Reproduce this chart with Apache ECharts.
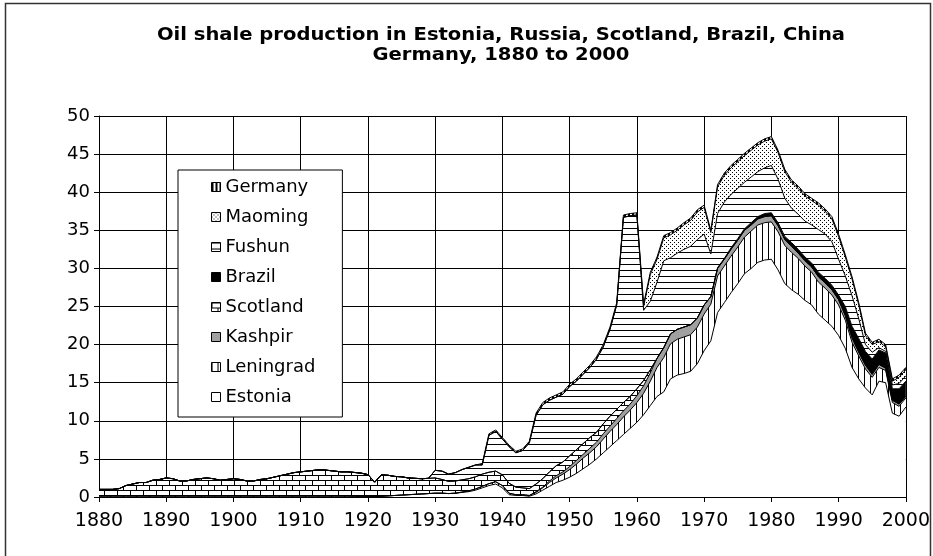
<!DOCTYPE html>
<html>
<head>
<meta charset="utf-8">
<script src="https://cdn.jsdelivr.net/npm/echarts@6/dist/echarts.min.js"></script>
<style>
  html, body { margin: 0; padding: 0; background: #fff; }
  #chart { width: 933px; height: 556px; }
</style>
</head>
<body>
<div id="chart"></div>
<script>
// years 1880 .. 2000, one value per year (million tonnes)
var firstYear = 1880, lastYear = 2000;
var years = [];
for (var y = firstYear; y <= lastYear; y++) years.push(String(y));

var titleLines = [
  "Oil shale production in Estonia, Russia, Scotland, Brazil, China",
  "Germany, 1880 to 2000"
];

var estonia = [
  0, 0, 0, 0, 0, 0, 0, 0, 0, 0,
  0, 0, 0, 0, 0, 0, 0, 0, 0, 0,
  0, 0, 0, 0, 0, 0, 0, 0, 0, 0,
  0, 0, 0, 0, 0, 0, 0, 0, 0.02, 0.03,
  0.04, 0.05, 0.1, 0.15, 0.2, 0.25, 0.3, 0.35, 0.4, 0.45,
  0.5, 0.5, 0.45, 0.5, 0.6, 0.7, 0.9, 1.2, 1.5, 1.7,
  1.2, 0.3, 0.2, 0.2, 0.1, 0.4, 0.9, 1.4, 1.9, 2.2,
  2.6, 3.1, 3.7, 4.3, 5.0, 5.8, 6.6, 7.4, 8.2, 9.0,
  9.8, 10.8, 12.0, 13.2, 13.8, 15.5, 16.0, 16.2, 16.5, 17.5,
  19.2, 20.5, 24.2, 25.5, 26.8, 28.0, 29.3, 30.0, 30.8, 31.1,
  31.2, 29.8, 28.0, 27.2, 26.6, 25.8, 25.2, 24.0, 23.2, 22.4,
  21.2, 19.5, 17.0, 15.5, 14.3, 13.4, 15.2, 15.0, 11.0, 10.6,
  11.8
];
var leningrad = [
  0, 0, 0, 0, 0, 0, 0, 0, 0, 0,
  0, 0, 0, 0, 0, 0, 0, 0, 0, 0,
  0, 0, 0, 0, 0, 0, 0, 0, 0, 0,
  0, 0, 0, 0, 0, 0, 0, 0, 0, 0,
  0, 0, 0, 0, 0, 0, 0, 0, 0, 0,
  0, 0, 0, 0, 0.05, 0.1, 0.15, 0.2, 0.25, 0.3,
  0.3, 0.2, 0.1, 0.1, 0.1, 0.2, 0.3, 0.5, 0.6, 0.8,
  1.0, 1.2, 1.4, 1.5, 1.6, 1.8, 2.0, 2.1, 2.3, 2.4,
  2.6, 2.8, 3.2, 3.8, 4.5, 4.6, 4.7, 4.8, 4.8, 4.8,
  4.8, 4.8, 4.8, 4.8, 4.8, 4.8, 4.8, 4.9, 4.9, 4.9,
  4.9, 5.0, 5.0, 4.9, 4.7, 4.5, 4.3, 4.2, 4.2, 4.1,
  4.0, 3.7, 3.3, 3.0, 2.5, 2.3, 1.8, 1.6, 1.4, 1.3,
  1.2
];
var kashpir = [
  0, 0, 0, 0, 0, 0, 0, 0, 0, 0,
  0, 0, 0, 0, 0, 0, 0, 0, 0, 0,
  0, 0, 0, 0, 0, 0, 0, 0, 0, 0,
  0, 0, 0, 0, 0, 0, 0, 0, 0, 0,
  0, 0, 0, 0, 0, 0, 0, 0, 0, 0,
  0, 0, 0, 0, 0, 0, 0, 0, 0, 0,
  0, 0, 0, 0, 0, 0.1, 0.1, 0.2, 0.3, 0.3,
  0.4, 0.5, 0.5, 0.6, 0.6, 0.7, 0.7, 0.8, 0.8, 0.8,
  0.9, 1.0, 1.1, 1.2, 1.3, 1.3, 1.3, 1.3, 1.3, 1.2,
  1.2, 1.0, 1.0, 0.9, 0.9, 0.9, 0.9, 0.8, 0.8, 0.8,
  0.8, 0.8, 0.8, 0.8, 0.7, 0.7, 0.7, 0.7, 0.7, 0.7,
  0.7, 0.6, 0.6, 0.5, 0.5, 0.4, 0.4, 0.3, 0.3, 0.3,
  0.2
];
var scotland = [
  1.0, 1.0, 1.0, 1.1, 1.5, 1.7, 1.9, 1.9, 2.2, 2.3,
  2.5, 2.4, 2.1, 2.1, 2.3, 2.4, 2.5, 2.4, 2.2, 2.3,
  2.4, 2.3, 2.1, 2.1, 2.3, 2.4, 2.6, 2.8, 3.0, 3.2,
  3.3, 3.4, 3.5, 3.6, 3.5, 3.4, 3.3, 3.3, 3.2, 3.1,
  2.9, 1.9, 2.8, 2.7, 2.5, 2.4, 2.2, 2.1, 2.0, 2.0,
  2.0, 1.8, 1.6, 1.6, 1.6, 1.6, 1.6, 1.6, 1.5, 1.4,
  1.4, 1.3, 1.0, 0.9, 0.9, 1.0, 1.1, 1.2, 1.3, 1.3,
  1.4, 1.4, 1.4, 1.4, 1.3, 1.3, 1.3, 1.2, 1.1, 1.0,
  0.9, 0.7, 0.4, 0, 0, 0, 0, 0, 0, 0,
  0, 0, 0, 0, 0, 0, 0, 0, 0, 0,
  0, 0, 0, 0, 0, 0, 0, 0, 0, 0,
  0, 0, 0, 0, 0, 0, 0, 0, 0, 0,
  0
];
var brazil = [
  0, 0, 0, 0, 0, 0, 0, 0, 0, 0,
  0, 0, 0, 0, 0, 0, 0, 0, 0, 0,
  0, 0, 0, 0, 0, 0, 0, 0, 0, 0,
  0, 0, 0, 0, 0, 0, 0, 0, 0, 0,
  0, 0, 0, 0, 0, 0, 0, 0, 0, 0,
  0, 0, 0, 0, 0, 0, 0, 0, 0, 0,
  0, 0, 0, 0, 0, 0, 0, 0, 0, 0,
  0, 0, 0, 0, 0, 0, 0, 0, 0, 0,
  0, 0, 0, 0, 0, 0, 0, 0, 0, 0,
  0, 0, 0.1, 0.1, 0.2, 0.2, 0.2, 0.3, 0.3, 0.4,
  0.4, 0.4, 0.4, 0.5, 0.5, 0.5, 0.5, 0.6, 0.6, 0.6,
  0.6, 1.2, 1.5, 1.8, 1.8, 2.0, 1.9, 2.0, 1.5, 2.0,
  2.0
];
var fushun = [
  0, 0, 0, 0, 0, 0, 0, 0, 0, 0,
  0, 0, 0, 0, 0, 0, 0, 0, 0, 0,
  0, 0, 0, 0, 0, 0, 0, 0, 0, 0,
  0, 0, 0, 0, 0, 0, 0, 0, 0, 0,
  0, 0, 0, 0, 0, 0, 0, 0, 0, 0,
  1.0, 1.1, 0.95, 1.1, 1.35, 1.5, 1.55, 1.2, 4.85, 5.2,
  4.7, 4.8, 4.5, 4.9, 6.0, 9.0, 9.7, 9.4, 9.0, 8.9,
  9.1, 9.0, 9.1, 9.2, 9.6, 10.1, 11.4, 13.7, 24.3, 23.7,
  22.8, 9.2, 9.0, 10.0, 11.4, 10.0, 10.0, 10.2, 10.3, 10.3,
  9.3, 5.6, 7.1, 7.4, 7.0, 6.6, 6.1, 6.0, 5.9, 6.0,
  6.2, 5.7, 5.0, 4.5, 4.6, 4.7, 5.0, 5.6, 5.8, 5.7,
  4.7, 4.0, 4.0, 2.6, 0.9, 0.9, 0.3, 0.2, 0.5, 0.7,
  0.7
];
var maoming = [
  0, 0, 0, 0, 0, 0, 0, 0, 0, 0,
  0, 0, 0, 0, 0, 0, 0, 0, 0, 0,
  0, 0, 0, 0, 0, 0, 0, 0, 0, 0,
  0, 0, 0, 0, 0, 0, 0, 0, 0, 0,
  0, 0, 0, 0, 0, 0, 0, 0, 0, 0,
  0, 0, 0, 0, 0, 0, 0, 0, 0, 0,
  0, 0, 0, 0, 0, 0, 0, 0, 0, 0,
  0, 0, 0, 0, 0, 0, 0, 0, 0, 0,
  0, 0.5, 3.5, 3.0, 3.0, 3.0, 3.0, 3.2, 3.4, 3.6,
  3.5, 2.8, 3.5, 3.5, 3.5, 3.5, 3.5, 3.5, 3.5, 3.5,
  3.5, 3.5, 3.5, 3.4, 3.4, 3.3, 3.2, 3.2, 3.0, 3.0,
  3.0, 2.5, 2.2, 1.8, 1.2, 1.0, 0.8, 0.6, 0.5, 0.8,
  0.8
];
var germany = [
  0, 0, 0, 0, 0, 0, 0, 0, 0, 0,
  0, 0, 0, 0, 0, 0, 0, 0, 0, 0,
  0, 0, 0, 0, 0, 0, 0, 0, 0, 0,
  0, 0, 0, 0, 0, 0, 0, 0, 0, 0,
  0, 0, 0, 0, 0, 0, 0, 0, 0, 0,
  0, 0, 0, 0, 0, 0, 0, 0.2, 0.2, 0.2,
  0.2, 0.2, 0.2, 0.2, 0.2, 0.3, 0.3, 0.3, 0.3, 0.3,
  0.3, 0.3, 0.3, 0.3, 0.3, 0.3, 0.3, 0.3, 0.3, 0.3,
  0.3, 0.3, 0.3, 0.3, 0.3, 0.3, 0.3, 0.3, 0.3, 0.3,
  0.3, 0.3, 0.3, 0.3, 0.3, 0.3, 0.3, 0.3, 0.3, 0.3,
  0.3, 0.3, 0.3, 0.3, 0.3, 0.3, 0.3, 0.3, 0.3, 0.3,
  0.3, 0.3, 0.3, 0.3, 0.3, 0.3, 0.3, 0.3, 0.3, 0.3,
  0.3
];

// fill patterns, like the old b/w spreadsheet fills
function pattern(w, h, draw) {
  var c = document.createElement("canvas");
  c.width = w;
  c.height = h;
  var ctx = c.getContext("2d");
  ctx.fillStyle = "#fff";
  ctx.fillRect(0, 0, w, h);
  ctx.fillStyle = "#000";
  draw(ctx);
  return { image: c, repeat: "repeat" };
}
var fills = {
  Estonia: "#fff",
  Leningrad: pattern(6, 6, function(ctx) { ctx.fillRect(0, 0, 1, 6); }),
  Kashpir: "#a0a0a0",
  Scotland: pattern(13, 10, function(ctx) {
    ctx.fillRect(0, 0, 13, 1);
    ctx.fillRect(0, 5, 13, 1);
    ctx.fillRect(0, 0, 1, 5);
    ctx.fillRect(6, 5, 1, 5);
  }),
  Brazil: "#000",
  Fushun: pattern(6, 6, function(ctx) { ctx.fillRect(0, 0, 6, 1); }),
  Maoming: pattern(4, 4, function(ctx) {
    ctx.fillRect(0, 0, 1, 1);
    ctx.fillRect(2, 2, 1, 1);
  }),
  Germany: pattern(4, 4, function(ctx) { ctx.fillRect(0, 0, 2, 4); })
};

var stackData = [
  { name: "Estonia", data: estonia },
  { name: "Leningrad", data: leningrad },
  { name: "Kashpir", data: kashpir },
  { name: "Scotland", data: scotland },
  { name: "Brazil", data: brazil },
  { name: "Fushun", data: fushun },
  { name: "Maoming", data: maoming },
  { name: "Germany", data: germany }
];

var font = "DejaVu Sans";

// the title font of the original is wide-set; stretch ours to the same width
var titleFont = 'bold 18px "DejaVu Sans Condensed", "DejaVu Sans"';
var measure = document.createElement("canvas").getContext("2d");
measure.font = titleFont;
var titleScale = 688 / measure.measureText(titleLines[0]).width;

var series = stackData.map(function(s) {
  return {
    name: s.name,
    type: "line",
    stack: "total",
    symbol: "none",
    showSymbol: false,
    animation: false,
    lineStyle: { color: "#000", width: 1 },
    itemStyle: { color: fills[s.name], borderColor: "#000", borderWidth: 1 },
    areaStyle: { color: fills[s.name], opacity: 1 },
    data: s.data
  };
});

var legendData = stackData.slice().reverse().map(function(s) {
  return {
    name: s.name,
    icon: "rect",
    itemStyle: { color: fills[s.name], borderColor: "#000", borderWidth: 1 }
  };
});

var option = {
  backgroundColor: "#fff",
  animation: false,
  legend: {
    orient: "vertical",
    left: 178,
    top: 170,
    padding: [7, 27, 10, 33],
    itemWidth: 9,
    itemHeight: 9,
    itemGap: 10,
    backgroundColor: "#fff",
    borderColor: "#000",
    borderWidth: 1,
    borderRadius: 0,
    selectedMode: false,
    textStyle: { fontFamily: font, fontSize: 18, lineHeight: 20, color: "#000" },
    data: legendData
  },
  grid: { left: 99, right: 27, top: 116, bottom: 59 },
  xAxis: {
    type: "category",
    boundaryGap: false,
    data: years,
    axisLine: { lineStyle: { color: "#000", width: 1 } },
    axisTick: { interval: 9, length: 5, lineStyle: { color: "#000" } },
    axisLabel: { interval: 9, margin: 15, fontFamily: font, fontSize: 19, color: "#000" },
    splitLine: { show: true, interval: 9, lineStyle: { color: "#000", width: 1 } }
  },
  yAxis: {
    type: "value",
    min: 0,
    max: 50,
    interval: 5,
    axisLine: { show: true, lineStyle: { color: "#000", width: 1 } },
    axisTick: { show: true, length: 5, lineStyle: { color: "#000" } },
    axisLabel: { margin: 9, fontFamily: font, fontSize: 18, color: "#000" },
    splitLine: { show: true, lineStyle: { color: "#000", width: 1 } }
  },
  graphic: [
    {
      type: "rect",
      silent: true,
      z: -10,
      shape: { x: 5.5, y: 3.5, width: 925, height: 560 },
      style: { fill: "none", stroke: "#333", lineWidth: 1.5 }
    },
    {
      type: "text",
      silent: true,
      x: 501,
      y: 35,
      scaleX: titleScale,
      style: { text: titleLines[0], font: titleFont, fill: "#000", textAlign: "center", textVerticalAlign: "middle" }
    },
    {
      type: "text",
      silent: true,
      x: 501,
      y: 55,
      scaleX: titleScale,
      style: { text: titleLines[1], font: titleFont, fill: "#000", textAlign: "center", textVerticalAlign: "middle" }
    }
  ],
  series: series
};

var myChart = echarts.init(document.getElementById("chart"));
myChart.setOption(option);
</script>
</body>
</html>
